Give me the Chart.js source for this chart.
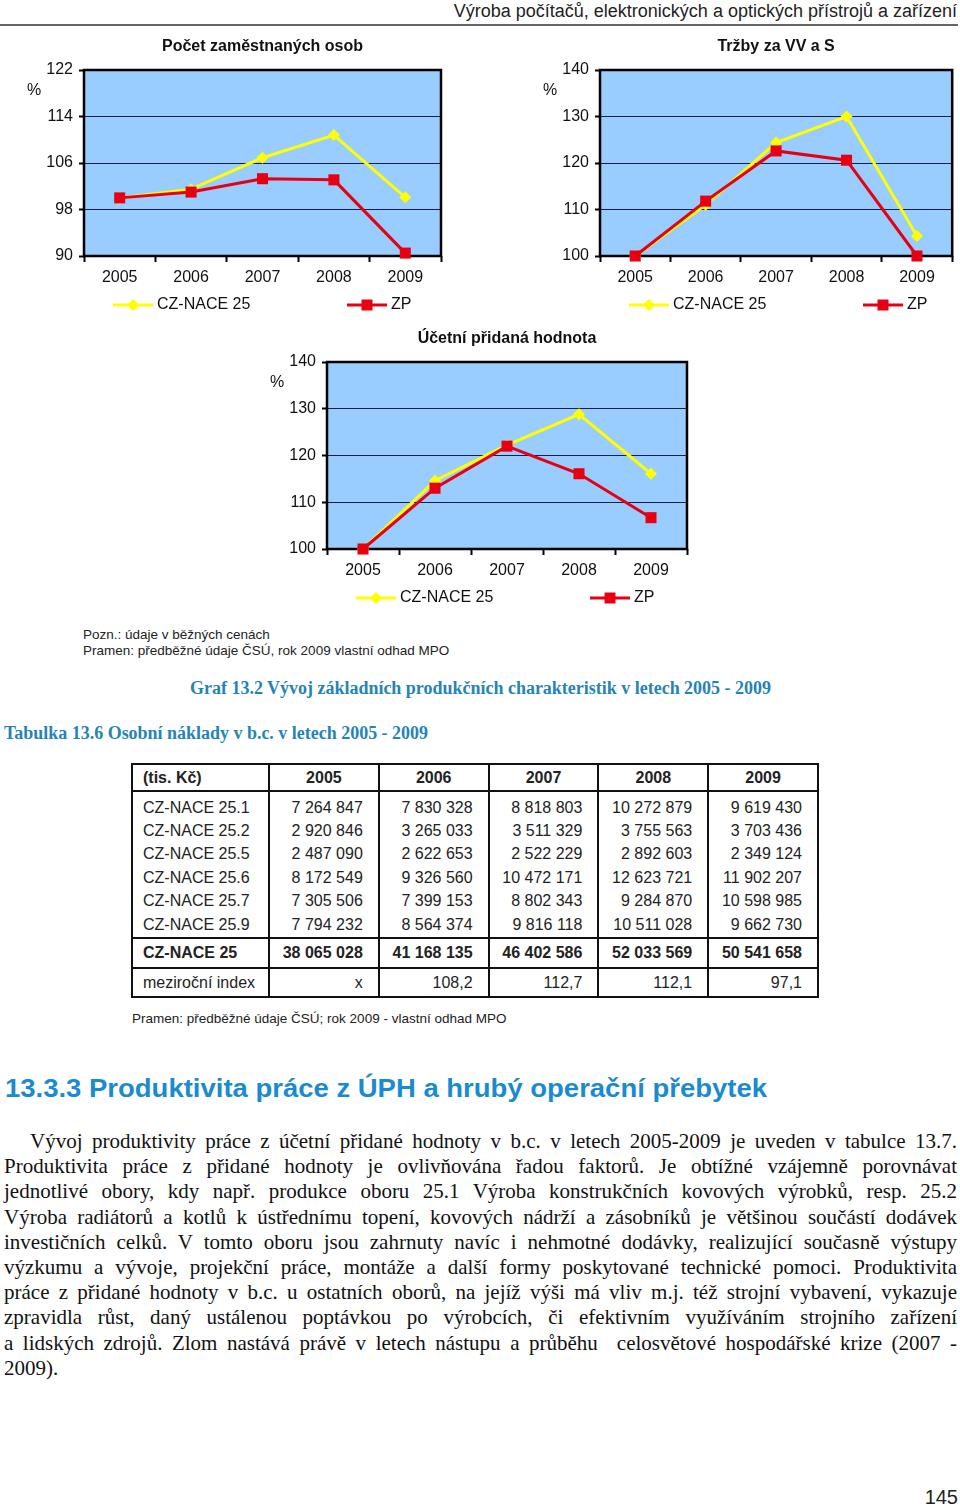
<!DOCTYPE html>
<html lang="cs">
<head>
<meta charset="utf-8">
<title>Graf 13.2</title>
<script src="https://cdn.jsdelivr.net/npm/chart.js@4.4.0/dist/chart.umd.min.js"></script>
<style>
  body { margin: 0; background: #fff; }
  #page { position: relative; width: 960px; height: 1508px; overflow: hidden;
          font-family: "Liberation Sans", Arial, sans-serif; color: #1a1a1a; }
  canvas { position: absolute; }
  .abs { position: absolute; white-space: nowrap; }
  .fit { display: inline-block; transform-origin: 0 50%; }
  .cap { font-family: "Liberation Serif", "Times New Roman", serif; font-weight: bold;
         font-size: 18px; line-height: 22px; color: #2684b5; }
  .note { font-size: 13.5px; line-height: 16px; color: #222; }
  #tbl { position: absolute; left: 131px; top: 763px; width: 688px; border-collapse: collapse;
         border: 2px solid #111; font-size: 16px; color: #222; table-layout: fixed; }
  #tbl td, #tbl th { border-left: 2px solid #111; border-right: 2px solid #111; padding: 0 15px 0 0;
         height: 23.4px; line-height: 20px; text-align: right; white-space: nowrap; }
  #tbl th { height: 25px; text-align: center; padding: 0; border-bottom: 2px solid #111; }
  #tbl td:first-child, #tbl th:first-child { text-align: left; padding-left: 10px; }
  #tbl tr.first td { padding-top: 4px; }
  #tbl tr.last td { padding-bottom: 1px; }
  #tbl tr.sum td { font-weight: bold; height: 28px; border-top: 2px solid #111; border-bottom: 2px solid #111; }
  #tbl tr.idx td { height: 27px; }
  #body { position: absolute; left: 4px; top: 1129px; width: 953px;
          font-family: "Liberation Serif", "Times New Roman", serif; font-size: 21px; line-height: 25.2px; color: #111; }
  #body div { white-space: nowrap; }
</style>
</head>
<body>
<div id="page">
  <div class="abs" style="right:3px; top:0; font-size:18px; line-height:22px; color:#222">Výroba počítačů, elektronických a optických přístrojů a zařízení</div>
  <div class="abs" style="left:0; top:24px; width:958px; height:2px; background:#666"></div>

  <canvas id="c1" width="460" height="300" style="left:0; top:30px"></canvas>
  <canvas id="c2" width="440" height="300" style="left:520px; top:30px"></canvas>
  <canvas id="c3" width="460" height="300" style="left:240px; top:320px"></canvas>

  <div class="abs note" style="left:83px; top:627px">Pozn.: údaje v běžných cenách</div>
  <div class="abs note" style="left:83px; top:643px">Pramen: předběžné údaje ČSÚ, rok 2009 vlastní odhad MPO</div>

  <div class="abs cap" style="left:190px; top:677px"><span class="fit" data-w="581">Graf 13.2 Vývoj základních produkčních charakteristik v letech 2005 - 2009</span></div>
  <div class="abs cap" style="left:4px; top:722px"><span class="fit" data-w="424">Tabulka 13.6 Osobní náklady v b.c. v letech 2005 - 2009</span></div>

  <table id="tbl"></table>

  <div class="abs note" style="left:132px; top:1011px">Pramen: předběžné údaje ČSÚ; rok 2009 - vlastní odhad MPO</div>

  <div class="abs" style="left:5px; top:1073px; font-size:25px; line-height:30px; font-weight:bold; color:#1a8bcf"><span class="fit" data-w="762">13.3.3 Produktivita práce z ÚPH a hrubý operační přebytek</span></div>

  <div id="body">
    <div data-indent="26">Vývoj produktivity práce z účetní přidané hodnoty v b.c. v letech 2005-2009 je uveden v tabulce 13.7.</div>
    <div>Produktivita práce z přidané hodnoty je ovlivňována řadou faktorů. Je obtížné vzájemně porovnávat</div>
    <div>jednotlivé obory, kdy např. produkce oboru 25.1 Výroba konstrukčních kovových výrobků, resp. 25.2</div>
    <div>Výroba radiátorů a kotlů k ústřednímu topení, kovových nádrží a zásobníků je většinou součástí dodávek</div>
    <div>investičních celků. V tomto oboru jsou zahrnuty navíc i nehmotné dodávky, realizující současně výstupy</div>
    <div>výzkumu a vývoje, projekční práce, montáže a další formy poskytované technické pomoci. Produktivita</div>
    <div>práce z přidané hodnoty v b.c. u ostatních oborů, na jejíž výši má vliv m.j. též strojní vybavení, vykazuje</div>
    <div>zpravidla růst, daný ustálenou poptávkou po výrobcích, či efektivním využíváním strojního zařízení</div>
    <div>a lidských zdrojů. Zlom nastává právě v letech nástupu a průběhu&nbsp; celosvětové hospodářské krize (2007 -</div>
    <div data-last="1">2009).</div>
  </div>

  <div class="abs" style="right:2px; top:1486px; font-size:20px; line-height:22px; color:#222">145</div>
</div>

<script>
// --- data ---
var years = ['2005', '2006', '2007', '2008', '2009'];

// Počet zaměstnaných osob (%)
var empNace = [100, 101.5, 106.9, 110.8, 100.1];
var empZp = [100, 101.0, 103.3, 103.1, 90.5];

// Tržby za VV a S (%)
var salesNace = [100, 111.0, 124.4, 130.0, 104.3];
var salesZp = [100, 111.8, 122.6, 120.6, 100];

// Účetní přidaná hodnota (%)
var vaNace = [100, 114.6, 122.2, 128.8, 116.1];
var vaZp = [100, 113.0, 122.0, 116.1, 106.7];

// Tabulka 13.6 (tis. Kč)
var rowLabels = ['CZ-NACE 25.1', 'CZ-NACE 25.2', 'CZ-NACE 25.5', 'CZ-NACE 25.6', 'CZ-NACE 25.7', 'CZ-NACE 25.9'];
var cost251 = [7264847, 7830328, 8818803, 10272879, 9619430];
var cost252 = [2920846, 3265033, 3511329, 3755563, 3703436];
var cost255 = [2487090, 2622653, 2522229, 2892603, 2349124];
var cost256 = [8172549, 9326560, 10472171, 12623721, 11902207];
var cost257 = [7305506, 7399153, 8802343, 9284870, 10598985];
var cost259 = [7794232, 8564374, 9816118, 10511028, 9662730];
var costTotal = [38065028, 41168135, 46402586, 52033569, 50541658];
var yearIndex = [null, 108.2, 112.7, 112.1, 97.1];

// --- table ---
function fmt(n) { return String(n).replace(/\B(?=(\d{3})+(?!\d))/g, ' '); }
function idx(v) { return v === null ? 'x' : v.toFixed(1).replace('.', ','); }

var tbl = document.getElementById('tbl');
var html = '<colgroup><col style="width:137px">' + years.map(function () { return '<col>'; }).join('') + '</colgroup>';
html += '<tr><th style="text-align:left;padding-left:10px">(tis. Kč)</th>' + years.map(function (y) { return '<th>' + y + '</th>'; }).join('') + '</tr>';
[cost251, cost252, cost255, cost256, cost257, cost259].forEach(function (row, i) {
    var cls = i === 0 ? 'first' : (i === 5 ? 'last' : '');
    html += '<tr class="' + cls + '"><td>' + rowLabels[i] + '</td>' + row.map(function (v) { return '<td>' + fmt(v) + '</td>'; }).join('') + '</tr>';
});
html += '<tr class="sum"><td>CZ-NACE 25</td>' + costTotal.map(function (v) { return '<td>' + fmt(v) + '</td>'; }).join('') + '</tr>';
html += '<tr class="idx"><td>meziroční index</td>' + yearIndex.map(function (v) { return '<td>' + idx(v) + '</td>'; }).join('') + '</tr>';
tbl.innerHTML = html;

// squeeze condensed headings to their width
document.querySelectorAll('.fit').forEach(function (el) {
    var w = el.getBoundingClientRect().width;
    el.style.transform = 'scaleX(' + (el.dataset.w / w) + ')';
});

// body lines: tighten the ones that are too long, then justify
document.querySelectorAll('#body div').forEach(function (d) {
    var indent = +(d.dataset.indent || 0);
    d.innerHTML = '<span>' + d.innerHTML + '</span>';
    var natural = d.firstChild.getBoundingClientRect().width;
    var avail = 953 - indent;
    if (natural > avail) {
        d.style.letterSpacing = ((avail - natural) / d.textContent.length) + 'px';
    }
    d.style.textIndent = indent + 'px';
    if (!d.dataset.last) {
        d.style.textAlign = 'justify';
        d.style.textAlignLast = 'justify';
    }
});

// --- charts ---
Chart.defaults.font.family = '"Liberation Sans", Arial, sans-serif';
Chart.defaults.font.size = 16;
Chart.defaults.color = '#111';

var YELLOW = '#FFFF00';
var RED = '#E60012';

// blue plot area, black frame, title, % label and the wide legend
var frame = {
    id: 'frame',
    beforeDraw: function (chart) {
        var a = chart.chartArea, c = chart.ctx;
        c.save();
        c.fillStyle = '#99CCFF';
        c.fillRect(a.left, a.top, a.right - a.left, a.bottom - a.top);
        c.restore();
    },
    beforeDatasetsDraw: function (chart) {
        var a = chart.chartArea, c = chart.ctx;
        c.save();
        c.strokeStyle = '#000';
        c.lineWidth = 2.5;
        c.strokeRect(a.left, a.top, a.right - a.left, a.bottom - a.top);
        c.restore();
    },
    afterDraw: function (chart, args, opts) {
        var a = chart.chartArea, c = chart.ctx;
        c.save();
        c.fillStyle = '#111';
        c.textBaseline = 'middle';
        c.font = 'bold 16px "Liberation Sans", Arial, sans-serif';
        c.textAlign = 'center';
        c.fillText(opts.title, (a.left + a.right) / 2, a.top - 23);
        c.font = '16px "Liberation Sans", Arial, sans-serif';
        c.fillText('%', a.left - 50, a.top + 21);

        c.textAlign = 'left';
        var y = a.bottom + 49;
        var starts = [29, 263];
        chart.data.datasets.forEach(function (ds, i) {
            var x0 = a.left + starts[i];
            c.strokeStyle = ds.borderColor;
            c.lineWidth = 3;
            c.beginPath();
            c.moveTo(x0, y);
            c.lineTo(x0 + 40, y);
            c.stroke();
            c.fillStyle = ds.borderColor;
            c.beginPath();
            if (ds.pointStyle === 'rect') {
                c.rect(x0 + 20 - 5.5, y - 5.5, 11, 11);
            } else {
                c.moveTo(x0 + 20, y - 6);
                c.lineTo(x0 + 26, y);
                c.lineTo(x0 + 20, y + 6);
                c.lineTo(x0 + 14, y);
                c.closePath();
            }
            c.fill();
            c.fillStyle = '#111';
            c.fillText(ds.label, x0 + 44, y);
        });
        c.restore();
    }
};

function makeChart(id, title, nace, zp, yMin, yMax, yStep, yWidth, xHeight, padTop, padRight) {
    return new Chart(document.getElementById(id), {
        type: 'line',
        data: {
            labels: years,
            datasets: [
                { label: 'CZ-NACE 25', data: nace, borderColor: YELLOW, backgroundColor: YELLOW,
                  borderWidth: 3, pointStyle: 'rectRot', pointRadius: 6, pointBorderWidth: 0, order: 2, clip: false },
                { label: 'ZP', data: zp, borderColor: RED, backgroundColor: RED,
                  borderWidth: 3, pointStyle: 'rect', pointRadius: 7.8, pointBorderWidth: 0, order: 1, clip: false }
            ]
        },
        options: {
            responsive: false,
            animation: false,
            events: [],
            layout: { padding: { top: padTop, right: padRight, bottom: 0, left: 0 } },
            plugins: {
                legend: { display: false },
                tooltip: { enabled: false },
                frame: { title: title }
            },
            scales: {
                x: {
                    offset: true,
                    border: { display: false },
                    grid: { offset: true, drawOnChartArea: false, tickLength: 6, tickColor: '#000', tickWidth: 2 },
                    ticks: { padding: 6 },
                    afterFit: function (s) { s.height = xHeight; }
                },
                y: {
                    min: yMin,
                    max: yMax,
                    border: { display: false },
                    ticks: { stepSize: yStep, padding: 6 },
                    grid: { color: '#1c1c48', lineWidth: 1, tickLength: 5, tickColor: '#000', tickWidth: 2 },
                    afterFit: function (s) { s.width = yWidth; }
                }
            }
        },
        plugins: [frame]
    });
}

makeChart('c1', 'Počet zaměstnaných osob', empNace, empZp, 90, 122, 8, 84, 74, 40, 19);
makeChart('c2', 'Tržby za VV a S', salesNace, salesZp, 100, 140, 10, 80, 74, 40, 4);
makeChart('c3', 'Účetní přidaná hodnota', vaNace, vaZp, 100, 140, 10, 87, 71, 42, 13);
</script>
</body>
</html>
